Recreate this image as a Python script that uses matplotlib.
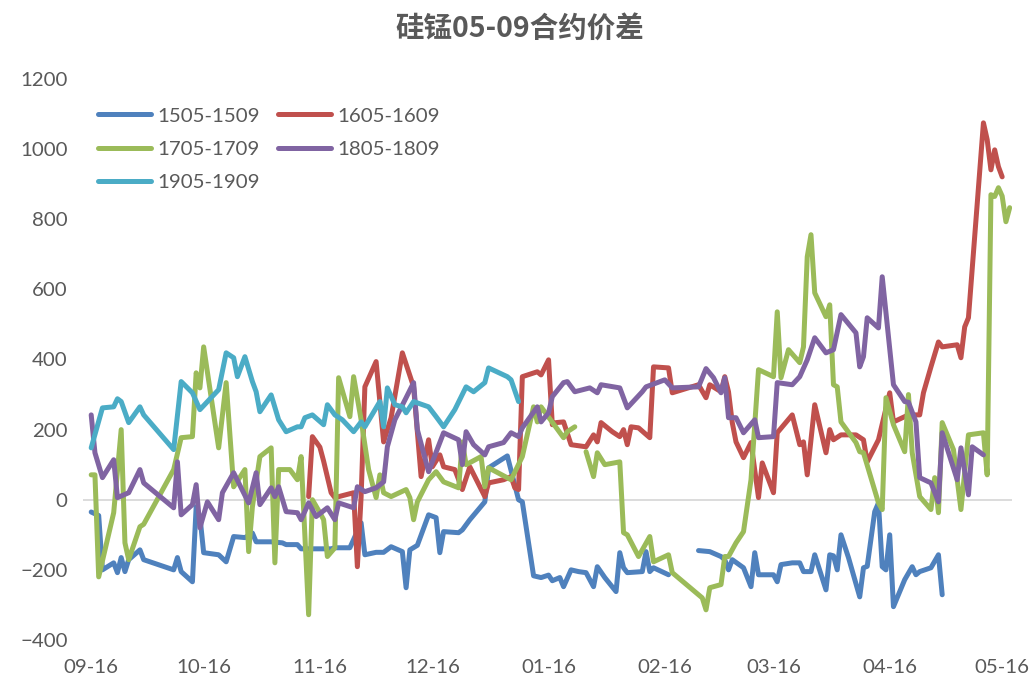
import numpy as np
import matplotlib
matplotlib.use("Agg")
import matplotlib.pyplot as plt

plt.rcParams["font.family"] = ["Lato", "Noto Sans CJK SC", "DejaVu Sans"]

start = np.datetime64("2015-09-16")
tick_dates = ["2015-09-16", "2015-10-16", "2015-11-16", "2015-12-16", "2016-01-16",
              "2016-02-16", "2016-03-16", "2016-04-16", "2016-05-16"]
tick_labels = ["09-16", "10-16", "11-16", "12-16", "01-16", "02-16", "03-16", "04-16", "05-16"]

# days since 2015-09-16, value (nan = gap)
d1505 = [0, 2, 3, 6, 7, 8, 9, 10, 13, 14, 22, 23, 24, 27, 28, 29, 30, 34, 36, 38, 41, 43, 44, 48,
         51, 52, 55, 56, 64, 65, 69, 72, 73, 76, 78, 80, 83, 84, 85, 87, 90, 92, 93, 94, 98, 99,
         101, 105, 106, 111, 114, 115, 118, 120, 122, 123, 125, 126, 128, 130, 132, 134, 135, 137,
         140, 141, 142, 143, 147, 148, 149, 150, 154, 158, 162, 165, 168, 169, 170, 171, 174, 176,
         177, 178, 182, 183, 184, 187, 189, 190, 192, 193, 196, 197, 198, 199, 200, 202, 205, 206,
         207, 209, 210, 211, 212, 213, 214, 217, 219, 220, 221, 224, 226, 227]
v1505 = [-35, -45, -200, -180, -208, -165, -205, -171, -143, -171, -200, -165, -205, -234, -20, -48,
         -151, -157, -177, -105, -108, -95, -120, -120, -123, -128, -128, -140, -140, -137, -137, -66,
         -157, -150, -150, -134, -148, -251, -143, -130, -43, -51, -151, -91, -94, -86, -57, -6, 91,
         125, 0, -6, -217, -222, -215, -231, -222, -248, -200, -205, -208, -248, -191, -222, -262,
         -151, -194, -208, -205, -148, -205, -194, -214, np.nan, -145, -148, -162, -171, -200, -171,
         -194, -248, -151, -214, -214, -234, -185, -180, -180, -205, -205, -157, -257, -157, -160,
         -200, -100, -165, -277, -194, -190, -34, -9, -191, -200, -100, -305, -228, -191, -214, -205,
         -194, -157, -271]

d1605 = [58, 59, 61, 62, 64, 65, 70, 71, 72, 73, 76, 78, 80, 83, 86, 88, 90, 91, 93, 94, 97, 99,
         101, 105, 106, 110, 112, 113, 114, 115, 119, 120, 122, 123, 124, 126, 128, 132, 134, 135,
         136, 139, 141, 142, 143, 144, 146, 149, 150, 154, 155, 162, 164, 165, 168, 169, 170, 171,
         172, 174, 176, 178, 179, 182, 183, 187, 189, 190, 191, 193, 196, 197, 198, 200, 204, 206,
         207, 210, 213, 214, 218, 221, 222, 224, 226, 227, 231, 232, 233, 234, 238, 239, 240, 241,
         242, 243]
v1605 = [9, 180, 150, 110, 20, 6, 20, -191, 9, 322, 394, 165, 234, 419, 322, 66, 171, 94, 128, 94,
         86, 29, 94, 9, 48, 57, 66, 34, 29, 351, 365, 356, 399, 214, 220, 222, 157, 151, 185, 165,
         220, 194, 180, 200, 157, 208, 205, 177, 379, 376, 305, 328, 291, 328, 308, 351, 308, 220,
         165, 120, 163, 6, 105, 20, 191, 242, 157, 165, 71, 271, 134, 200, 171, 185, 185, 171, 108,
         171, 305, 222, 242, 242, 305, 379, 450, 436, 442, 405, 493, 519, 1075, 1027, 941, 998, 950,
         921]

d1705 = [0, 1, 2, 6, 8, 9, 10, 13, 14, 22, 24, 27, 28, 29, 30, 34, 36, 38, 41, 42, 43, 45, 48, 49,
         50, 53, 55, 56, 58, 59, 61, 62, 63, 65, 66, 69, 70, 72, 74, 76, 77, 78, 80, 84, 85, 86, 87,
         90, 92, 94, 98, 99, 100, 104, 105, 106, 112, 115, 118, 119, 120, 126, 127, 129, 130, 132,
         134, 135, 137, 141, 142, 143, 146, 149, 150, 154, 155, 163, 164, 165, 168, 169, 170, 172,
         174, 176, 178, 182, 183, 184, 186, 189, 190, 191, 192, 193, 196, 197, 198, 199, 200, 204,
         205, 206, 210, 211, 212, 214, 217, 218, 219, 221, 224, 225, 226, 227, 230, 232, 234, 238,
         239, 240, 241, 242, 243, 244, 245]
v1705 = [71, 71, -220, -37, 200, -123, -171, -77, -70, 86, 177, 180, 362, 319, 436, 148, 334, 37, 86,
         -148, -20, 123, 148, -180, 86, 86, 57, 123, -328, 0, -37, -57, -162, -137, 348, 237, 351,
         228, 86, 6, 71, 20, 9, 29, 6, -57, -6, 57, 80, 51, 34, 165, 100, 123, 37, 91, 57, 123, 265,
         222, 265, 177, 194, 208, np.nan, 137, 66, 134, 100, 108, -94, -100, -162, -105, -177, -157,
         -208, -280, -314, -251, -242, -162, -162, -123, -91, 57, 371, 351, 536, 348, 428, 391, 436,
         693, 756, 590, 522, 556, 328, 322, 222, 163, 137, 134, -9, -28, 291, 214, 137, 300, 134, 9,
         -28, 63, -37, 220, 143, -28, 185, 191, 71, 870, 865, 890, 866, 793, 833]

d1805 = [0, 1, 3, 6, 7, 10, 13, 14, 22, 23, 24, 27, 28, 29, 31, 34, 35, 38, 42, 44, 45, 48, 49, 50,
         52, 55, 56, 58, 60, 63, 64, 65, 66, 70, 71, 73, 76, 78, 79, 81, 84, 86, 87, 90, 94, 98, 99,
         100, 102, 105, 106, 110, 112, 114, 115, 119, 120, 122, 123, 126, 127, 129, 133, 135, 136,
         141, 143, 147, 148, 153, 155, 162, 164, 166, 168, 169, 170, 172, 174, 177, 178, 182, 183,
         187, 189, 191, 193, 196, 198, 200, 204, 205, 206, 207, 210, 211, 214, 217, 218, 220, 221,
         224, 226, 227, 231, 232, 234, 235, 238]
v1805 = [242, 134, 63, 114, 6, 20, 86, 48, -23, 108, -43, -14, 43, -80, -6, -57, 20, 77, -9, 77, -14,
         34, 9, 37, -34, -37, -57, -9, -48, -23, -40, -57, -9, -23, 37, 23, 34, 51, 151, 228, 291,
         334, 200, 80, 191, 171, 100, 194, 157, 128, 151, 163, 191, 180, 205, 265, 222, 248, 294,
         334, 337, 308, 319, 305, 328, 319, 262, 308, 322, 342, 319, 322, 374, 348, 305, 348, 234,
         234, 191, 228, 177, 180, 334, 328, 351, 399, 462, 419, 428, 528, 476, 379, 408, 519, 490,
         636, 328, 280, 278, 222, 63, 48, -6, 191, 57, 148, 14, 151, 128]

d1905 = [0, 3, 6, 7, 8, 10, 13, 14, 22, 24, 27, 29, 34, 36, 38, 39, 41, 43, 44, 45, 48, 50, 52, 55,
         56, 57, 59, 62, 63, 65, 67, 70, 72, 73, 77, 78, 79, 81, 83, 84, 86, 90, 92, 94, 97, 100,
         102, 105, 106, 111, 112, 114]
v1905 = [148, 262, 265, 288, 280, 220, 265, 242, 143, 337, 305, 257, 314, 419, 405, 351, 408, 337,
         308, 251, 299, 228, 194, 208, 208, 234, 242, 214, 271, 242, 228, 194, 222, 208, 280, 208,
         319, 271, 265, 248, 280, 265, 237, 208, 257, 322, 308, 334, 376, 351, 342, 280]

series = [
    ("1505-1509", d1505, v1505, "#4F81BD"),
    ("1605-1609", d1605, v1605, "#C0504D"),
    ("1705-1709", d1705, v1705, "#9BBB59"),
    ("1805-1809", d1805, v1805, "#8064A2"),
    ("1905-1909", d1905, v1905, "#4BACC6"),
]

fig = plt.figure(figsize=(10.33, 6.83), dpi=100)
ax = fig.add_axes([0.0803, 0.063, 0.8993, 0.8213])

handles = {}
for name, d, v, c in series:
    (ln,) = ax.plot(d, v, color=c, lw=3.6, label=name,
                    solid_joinstyle="round", solid_capstyle="round")
    handles[name] = ln

ax.axhline(0, color="#D9D9D9", lw=1.3, zorder=0)

ticks = (np.array(tick_dates, dtype="datetime64[D]") - start).astype(int)
ax.set_xticks(ticks)
ax.set_xticklabels(tick_labels)
ax.set_xlim(-2.2, 245.6)
ax.set_ylim(-400, 1200)
ax.set_yticks(range(-400, 1201, 200))
ax.tick_params(axis="both", length=0, labelsize=14.7, labelcolor="#595959")
ax.tick_params(axis="x", pad=14)
ax.tick_params(axis="y", pad=11)
for s in ax.spines.values():
    s.set_visible(False)

order = ["1505-1509", "1705-1709", "1905-1909", "1605-1609", "1805-1809"]
leg = fig.legend([handles[n] for n in order], order, loc="upper left",
                 bbox_to_anchor=(0.0948, 0.843), ncol=2, frameon=False,
                 fontsize=14.7, handlelength=2.6, handletextpad=0.3,
                 columnspacing=0.9, labelspacing=0.78, borderpad=0, borderaxespad=0)
for t in leg.get_texts():
    t.set_color("#595959")

fig.text(0.503, 0.958, "硅锰05-09合约价差", ha="center", va="center", fontsize=20.5,
         fontweight="bold", color="#595959", family=["Noto Sans CJK SC", "DejaVu Sans"])

fig.savefig("out.png", dpi=100)
